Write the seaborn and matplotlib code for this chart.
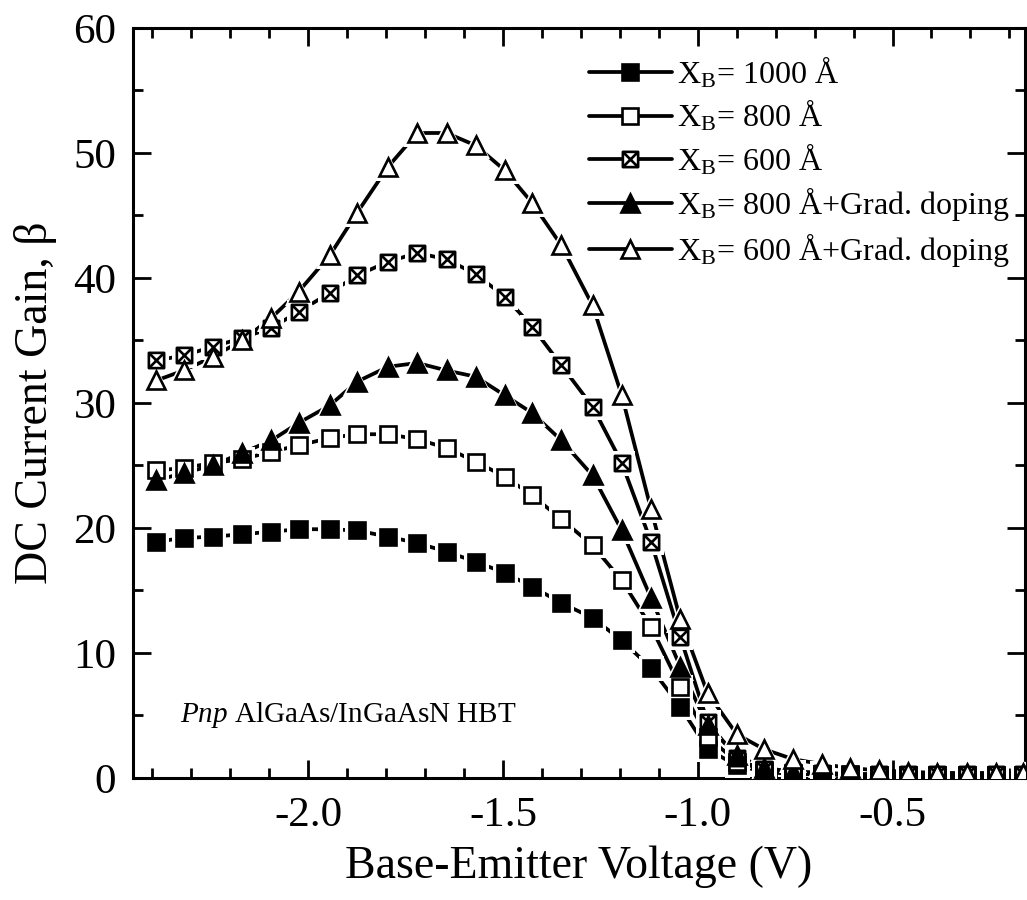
import numpy as np
import pandas as pd
import matplotlib
matplotlib.use("Agg")
import matplotlib.pyplot as plt
import seaborn as sns
from matplotlib.path import Path
from matplotlib.lines import Line2D
from matplotlib.ticker import MultipleLocator

# ---------------- data ----------------
vbe = [-2.39, -2.32, -2.245, -2.17, -2.095, -2.025, -1.945, -1.875, -1.795, -1.72,
       -1.645, -1.57, -1.495, -1.425, -1.35, -1.27, -1.195, -1.12, -1.045, -0.975,
       -0.90, -0.83, -0.755, -0.68, -0.61, -0.535, -0.46, -0.385, -0.31, -0.235, -0.165]

gain_1000 = [18.9, 19.2, 19.3, 19.5, 19.7, 19.9, 19.9, 19.8, 19.3, 18.8,
             18.1, 17.3, 16.4, 15.3, 14.0, 12.8, 11.0, 8.8, 5.7, 2.3,
             1.0, 0.5, 0.3, 0.3, 0.2, 0.2, 0.2, 0.2, 0.2, 0.2, 0.2]
gain_800 = [24.6, 24.8, 25.2, 25.5, 26.1, 26.6, 27.2, 27.5, 27.5, 27.1,
            26.4, 25.3, 24.1, 22.6, 20.7, 18.6, 15.8, 12.1, 7.3, 3.3,
            1.3, 0.6, 0.4, 0.3, 0.3, 0.2, 0.2, 0.2, 0.2, 0.2, 0.2]
gain_600 = [33.4, 33.8, 34.5, 35.2, 36.0, 37.3, 38.8, 40.2, 41.3, 42.0,
            41.5, 40.3, 38.5, 36.1, 33.0, 29.7, 25.2, 18.9, 11.3, 4.5,
            1.6, 0.7, 0.5, 0.4, 0.3, 0.3, 0.3, 0.3, 0.3, 0.3, 0.3]
gain_800g = [23.8, 24.4, 25.0, 26.0, 27.0, 28.4, 29.8, 31.7, 32.9, 33.2,
             32.6, 32.1, 30.6, 29.2, 27.0, 24.2, 19.8, 14.4, 8.9, 4.2,
             1.8, 0.8, 0.5, 0.4, 0.3, 0.3, 0.3, 0.3, 0.3, 0.3, 0.3]
gain_600g = [31.8, 32.6, 33.7, 35.0, 36.8, 38.9, 41.8, 45.2, 48.9, 51.6,
             51.6, 50.6, 48.6, 46.0, 42.6, 37.8, 30.6, 21.5, 12.7, 6.8,
             3.5, 2.3, 1.5, 1.1, 0.8, 0.6, 0.5, 0.4, 0.4, 0.4, 0.4]

labels = [r"X$_\mathregular{B}$= 1000 Å",
          r"X$_\mathregular{B}$= 800 Å",
          r"X$_\mathregular{B}$= 600 Å",
          r"X$_\mathregular{B}$= 800 Å+Grad. doping",
          r"X$_\mathregular{B}$= 600 Å+Grad. doping"]

x_ticks = [-2.0, -1.5, -1.0, -0.5]
y_ticks = [0, 10, 20, 30, 40, 50, 60]

# ---------------- style ----------------
sns.set_theme(style="ticks")
plt.rcParams["font.family"] = ["Liberation Serif", "DejaVu Serif"]
plt.rcParams["mathtext.fontset"] = "custom"
plt.rcParams["mathtext.rm"] = "Liberation Serif"
plt.rcParams["mathtext.it"] = "Liberation Serif:italic"
plt.rcParams["axes.unicode_minus"] = False
for k in ["text.color", "axes.labelcolor", "xtick.color", "ytick.color",
          "axes.edgecolor", "legend.labelcolor"]:
    plt.rcParams[k] = "black"

# crossed-square marker (square with X)
crossed = Path([(-1, -1), (1, -1), (1, 1), (-1, 1), (-1, -1),
                (-1, -1), (1, 1), (-1, 1), (1, -1)],
               [Path.MOVETO, Path.LINETO, Path.LINETO, Path.LINETO, Path.CLOSEPOLY,
                Path.MOVETO, Path.LINETO, Path.MOVETO, Path.LINETO])

series = [
    (gain_1000, "s", "black", 11),
    (gain_800, "s", "white", 11),
    (gain_600, crossed, "white", 11),
    (gain_800g, "^", "black", 13.5),
    (gain_600g, "^", "white", 13.5),
]

fig = plt.figure(figsize=(10.27, 9.0), dpi=100)
ax = fig.add_axes([0.1295, 0.1356, 0.8685, 0.8333])

lw = 2.7
for y, m, fc, ms in series:
    df = pd.DataFrame({"v": vbe, "g": y})
    sns.lineplot(data=df, x="v", y="g", ax=ax, color="black", lw=lw,
                 sort=False, estimator=None, zorder=2)
for y, m, fc, ms in series:
    df = pd.DataFrame({"v": vbe, "g": y})
    sns.lineplot(data=df, x="v", y="g", ax=ax, linestyle="none", marker=m,
                 markersize=ms + 7, markerfacecolor="white", markeredgecolor="white",
                 markeredgewidth=0, sort=False, estimator=None, zorder=3)
for y, m, fc, ms in series:
    df = pd.DataFrame({"v": vbe, "g": y})
    sns.lineplot(data=df, x="v", y="g", ax=ax, linestyle="none", marker=m,
                 markersize=ms, markerfacecolor=fc, markeredgecolor="black",
                 markeredgewidth=1.9, sort=False, estimator=None, zorder=4)

ax.set_xlim(-2.45, -0.16)
ax.set_ylim(0, 60)
ax.set_xticks(x_ticks)
ax.set_xticklabels([f"{t:.1f}" for t in x_ticks])
ax.set_yticks(y_ticks)
ax.xaxis.set_minor_locator(MultipleLocator(0.1))
ax.yaxis.set_minor_locator(MultipleLocator(5))
ax.tick_params(which="both", direction="in", top=True, right=True,
               labelsize=31, width=2.0, colors="black", labelcolor="black")
ax.tick_params(which="major", length=13)
ax.tick_params(which="minor", length=7)
ax.tick_params(axis="x", pad=13)
ax.tick_params(axis="y", pad=12)
for s in ax.spines.values():
    s.set_linewidth(2.2)
    s.set_color("black")

ax.set_xlabel("Base-Emitter Voltage (V)", fontsize=33, labelpad=8, color="black")
ax.set_ylabel("DC Current Gain, β", fontsize=33, labelpad=12, color="black")

ax.text(-2.33, 5.0, r"$\mathit{Pnp}$ AlGaAs/InGaAsN HBT", fontsize=21,
        va="center", ha="left", color="black")

handles = []
for y, m, fc, ms in series:
    handles.append(Line2D([], [], color="black", lw=lw, marker=m, markersize=ms,
                          markerfacecolor=fc, markeredgecolor="black",
                          markeredgewidth=1.9))
leg = ax.legend(handles, labels, loc="upper left", bbox_to_anchor=(0.511, 0.964),
                frameon=False, fontsize=23, handlelength=2.6, handletextpad=0.15,
                labelspacing=0.25, borderpad=0, borderaxespad=0, labelcolor="black")

fig.savefig("out.png", dpi=100)
